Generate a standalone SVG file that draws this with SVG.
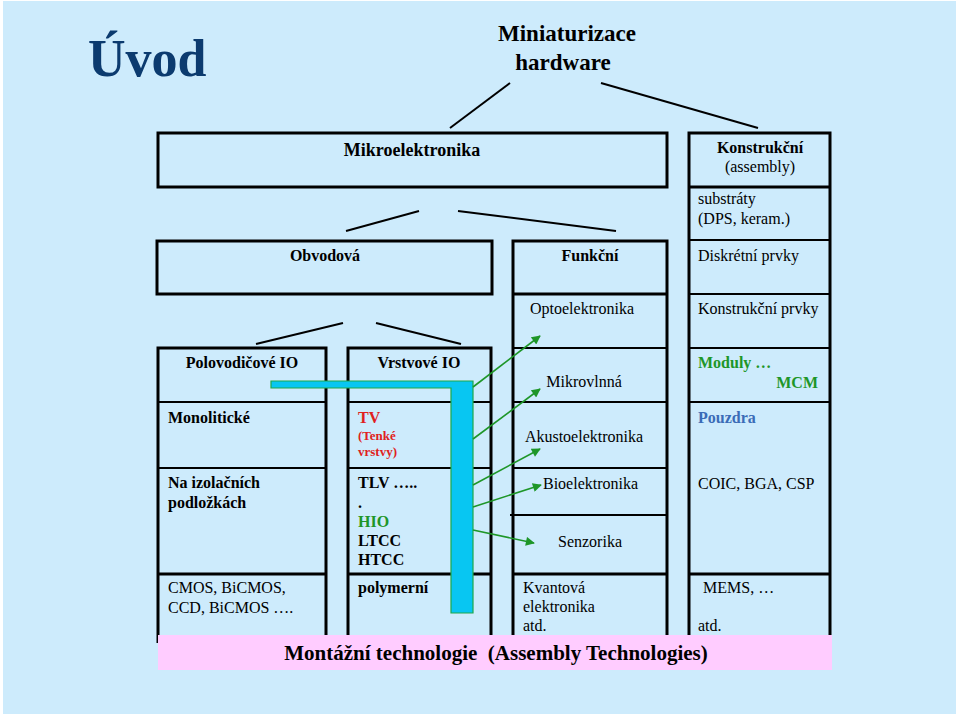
<svg xmlns="http://www.w3.org/2000/svg" width="960" height="716" viewBox="0 0 960 716">
<defs>
<style>
text{font-family:"Liberation Serif","Times New Roman",serif;fill:#000;font-size:16px}
.b{font-weight:bold}
.c{text-anchor:middle}
.e{text-anchor:end}
.frame{fill:none;stroke:#000;stroke-width:3}
.div{fill:none;stroke:#000;stroke-width:2}
.ln{stroke:#000;stroke-width:2;fill:none}
.arr{stroke:#1E9628;stroke-width:1.6;fill:none;marker-end:url(#ah)}
.red{fill:#E02020}
.grn{fill:#1E9628}
.blu{fill:#3B6CB7}
</style>
<marker id="ah" viewBox="0 0 10 10" refX="9" refY="5" markerWidth="11" markerHeight="9" markerUnits="userSpaceOnUse" orient="auto">
<path d="M0,0 L10,5 L0,10 z" fill="#1E9628"/>
</marker>
</defs>
<rect x="0" y="0" width="960" height="716" fill="#ffffff"/>
<rect x="3" y="1" width="953" height="713" fill="#CDEBFC"/>

<g id="title">
<text x="88" y="76" class="b" style="font-size:52px;fill:#0C3B6F">Úvod</text>
</g>
<g id="miniaturizace">
<text x="567" y="41" class="b c" style="font-size:23px">Miniaturizace</text>
<text x="563" y="70" class="b c" style="font-size:23px">hardware</text>
</g>

<g id="connectors">
<line class="ln" x1="450" y1="128" x2="510" y2="83"/>
<line class="ln" x1="601" y1="83" x2="758" y2="128"/>
<line class="ln" x1="346" y1="231" x2="419" y2="211"/>
<line class="ln" x1="458" y1="211" x2="616" y2="231"/>
<line class="ln" x1="256" y1="344" x2="343" y2="323"/>
<line class="ln" x1="376" y1="323" x2="461" y2="344"/>
</g>

<g id="mikroelektronika">
<rect class="frame" x="158" y="133" width="509" height="54"/>
<text x="412" y="156" class="b c" style="font-size:18px">Mikroelektronika</text>
</g>

<g id="obvodova">
<rect class="frame" x="157" y="241" width="335" height="53"/>
<text x="325" y="261" class="b c">Obvodová</text>
</g>

<g id="col-polovodicove">
<path class="frame" d="M158,643 V348 H326 V637"/>
<path class="div" d="M158,402 H326 M158,468 H326"/>
<path class="frame" d="M158,574 H326"/>
<g id="polovodicove-io"><text x="242" y="368" class="b c">Polovodičové IO</text></g>
<g id="monoliticke"><text x="168" y="423" class="b">Monolitické</text></g>
<g id="na-izolacnich"><text x="168" y="488" class="b">Na izolačních</text><text x="168" y="508" class="b">podložkách</text></g>
<g id="cmos"><text x="168" y="593">CMOS, BiCMOS,</text><text x="168" y="613">CCD, BiCMOS ….</text></g>
</g>

<g id="col-vrstvove">
<path class="frame" d="M348,637 V348 H491 V637"/>
<path class="div" d="M348,402 H491 M348,468 H491"/>
<path class="frame" d="M348,574 H491"/>
<g id="vrstvove-io"><text x="419" y="368" class="b c">Vrstvové IO</text></g>
<g id="tv"><text x="358" y="423" class="b red">TV</text><text x="358" y="440" class="b red" style="font-size:13px">(Tenké</text><text x="358" y="456" class="b red" style="font-size:13px">vrstvy)</text></g>
<g id="tlv"><text x="358" y="488" class="b">TLV …..</text><text x="358" y="508" class="b">.</text><text x="358" y="527" class="b grn">HIO</text><text x="358" y="546" class="b">LTCC</text><text x="358" y="565" class="b">HTCC</text></g>
<g id="polymerni"><text x="358" y="593" class="b">polymerní</text></g>
</g>

<g id="col-funkcni">
<path class="frame" d="M513,637 V241 H667 V637"/>
<path class="frame" d="M513,294 H667"/>
<path class="div" d="M513,348 H667 M513,402 H667 M513,468 H667 M510,515 H667"/>
<path class="frame" d="M513,574 H667"/>
<g id="funkcni"><text x="590" y="261" class="b c">Funkční</text></g>
<g id="optoelektronika"><text x="582" y="314" class="c">Optoelektronika</text></g>
<g id="mikrovlnna"><text x="584" y="387" class="c">Mikrovlnná</text></g>
<g id="akustoelektronika"><text x="584" y="442" class="c">Akustoelektronika</text></g>
<g id="bioelektronika"><text x="543" y="489">Bioelektronika</text></g>
<g id="senzorika"><text x="590" y="547" class="c">Senzorika</text></g>
<g id="kvantova"><text x="523" y="593">Kvantová</text><text x="523" y="612">elektronika</text><text x="523" y="631">atd.</text></g>
</g>

<g id="col-konstrukcni">
<path class="frame" d="M689,637 V133 H830 V637"/>
<path class="frame" d="M689,187 H830"/>
<path class="div" d="M689,240 H830 M689,294 H830 M689,348 H830 M689,402 H830"/>
<path class="frame" d="M689,574 H830"/>
<g id="konstrukcni"><text x="760" y="153" class="b c">Konstrukční</text><text x="760" y="172" class="c">(assembly)</text></g>
<g id="substraty"><text x="698" y="204">substráty</text><text x="698" y="224">(DPS, keram.)</text></g>
<g id="diskretni"><text x="698" y="261">Diskrétní prvky</text></g>
<g id="konstrukcni-prvky"><text x="698" y="314">Konstrukční prvky</text></g>
<g id="moduly"><text x="698" y="368" class="b grn">Moduly …</text><text x="818" y="388" class="b grn e">MCM</text></g>
<g id="pouzdra"><text x="698" y="423" class="b blu">Pouzdra</text><text x="698" y="489">COIC, BGA, CSP</text></g>
<g id="mems"><text x="703" y="593">MEMS, …</text><text x="698" y="631">atd.</text></g>
</g>

<g id="cyan-bar">
<path d="M271,381 H473 V613 H451 V388 H271 Z" fill="#08C6F2" stroke="#1EA84A" stroke-width="1.2"/>
</g>

<g id="arrows">
<line class="arr" x1="473" y1="387" x2="540" y2="336"/>
<line class="arr" x1="473" y1="439" x2="540" y2="389"/>
<line class="arr" x1="473" y1="485" x2="540" y2="449"/>
<line class="arr" x1="473" y1="507" x2="541" y2="485"/>
<line class="arr" x1="473" y1="530" x2="534" y2="543"/>
</g>

<g id="montazni">
<rect x="158" y="635" width="674" height="35" fill="#FFCCFF"/>
<text x="496" y="660" class="b c" style="font-size:21px" xml:space="preserve">Montážní technologie  (Assembly Technologies)</text>
</g>
</svg>
